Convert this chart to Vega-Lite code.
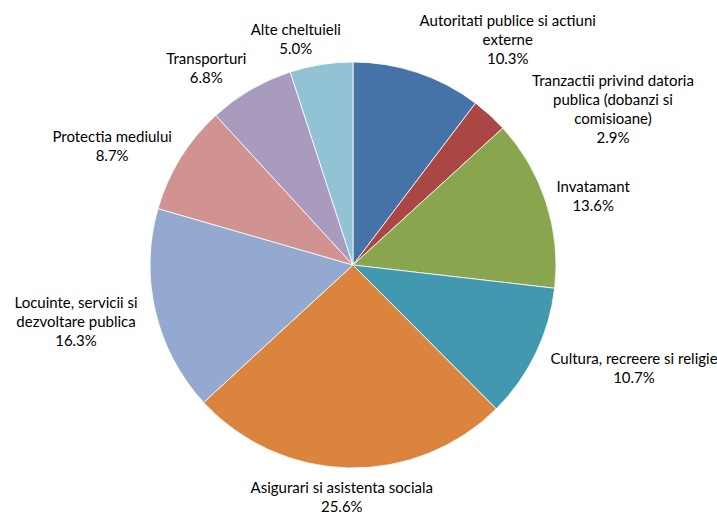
{
  "$schema": "https://vega.github.io/schema/vega-lite/v6.json",
  "width": 706,
  "height": 498,
  "autosize": "none",
  "padding": {"left": 0, "top": 16, "right": 11, "bottom": 0},
  "background": "white",
  "config": {"view": {"stroke": null}},
  "data": {
    "values": [
      {"idx": 1, "cat": "Autoritati publice si actiuni externe", "label": "Autoritati publice si actiuni\nexterne\n10.3%", "value": 10.3},
      {"idx": 2, "cat": "Tranzactii privind datoria publica (dobanzi si comisioane)", "label": "Tranzactii privind datoria\npublica (dobanzi si\ncomisioane)\n2.9%", "value": 2.9},
      {"idx": 3, "cat": "Invatamant", "label": "Invatamant\n13.6%", "value": 13.6},
      {"idx": 4, "cat": "Cultura, recreere si religie", "label": "Cultura, recreere si religie\n10.7%", "value": 10.7},
      {"idx": 5, "cat": "Asigurari si asistenta sociala", "label": "Asigurari si asistenta sociala\n25.6%", "value": 25.6},
      {"idx": 6, "cat": "Locuinte, servicii si dezvoltare publica", "label": "Locuinte, servicii si\ndezvoltare publica\n16.3%", "value": 16.3},
      {"idx": 7, "cat": "Protectia mediului", "label": "Protectia mediului\n8.7%", "value": 8.7},
      {"idx": 8, "cat": "Transporturi", "label": "Transporturi\n6.8%", "value": 6.8},
      {"idx": 9, "cat": "Alte cheltuieli", "label": "Alte cheltuieli\n5.0%", "value": 5.0}
    ]
  },
  "encoding": {
    "theta": {"field": "value", "type": "quantitative", "stack": true},
    "order": {"field": "idx", "type": "quantitative"}
  },
  "layer": [
    {
      "mark": {"type": "arc", "radius": 203, "stroke": "#ffffff", "strokeWidth": 0.8},
      "encoding": {
        "color": {
          "field": "cat",
          "type": "nominal",
          "scale": {
            "domain": ["Autoritati publice si actiuni externe", "Tranzactii privind datoria publica (dobanzi si comisioane)", "Invatamant", "Cultura, recreere si religie", "Asigurari si asistenta sociala", "Locuinte, servicii si dezvoltare publica", "Protectia mediului", "Transporturi", "Alte cheltuieli"],
            "range": ["#4572A7", "#AA4643", "#89A54E", "#4198AF", "#DB843D", "#93A9CF", "#D19392", "#A99BBD", "#92C3D5"]
          },
          "legend": null
        }
      }
    },
    {
      "mark": {
        "type": "text",
        "radius": 216,
        "align": "center",
        "baseline": "middle",
        "font": "Lato",
        "fontSize": 15,
        "lineHeight": 19,
        "lineBreak": "\n",
        "color": "#000000",
        "dx": {"expr": "clamp(3.3*sin(scale('theta', 0.5*datum.value_start + 0.5*datum.value_end)), -1, 1) * indexof(datum.label, '\\n') * 2.9 + 6*sin(scale('theta', 0.5*datum.value_start + 0.5*datum.value_end)) + (datum.value < 4 ? 35 : 0)"},
        "dy": {"expr": "-cos(scale('theta', 0.5*datum.value_start + 0.5*datum.value_end)) * length(split(datum.label, '\\n')) * 9.5 + 4.5*cos(scale('theta', 0.5*datum.value_start + 0.5*datum.value_end)) - (length(split(datum.label, '\\n')) - 1) * 9.5 + 2.5 + (datum.value < 4 ? 26 : 0)"}
      },
      "encoding": {"text": {"field": "label"}}
    }
  ]
}
